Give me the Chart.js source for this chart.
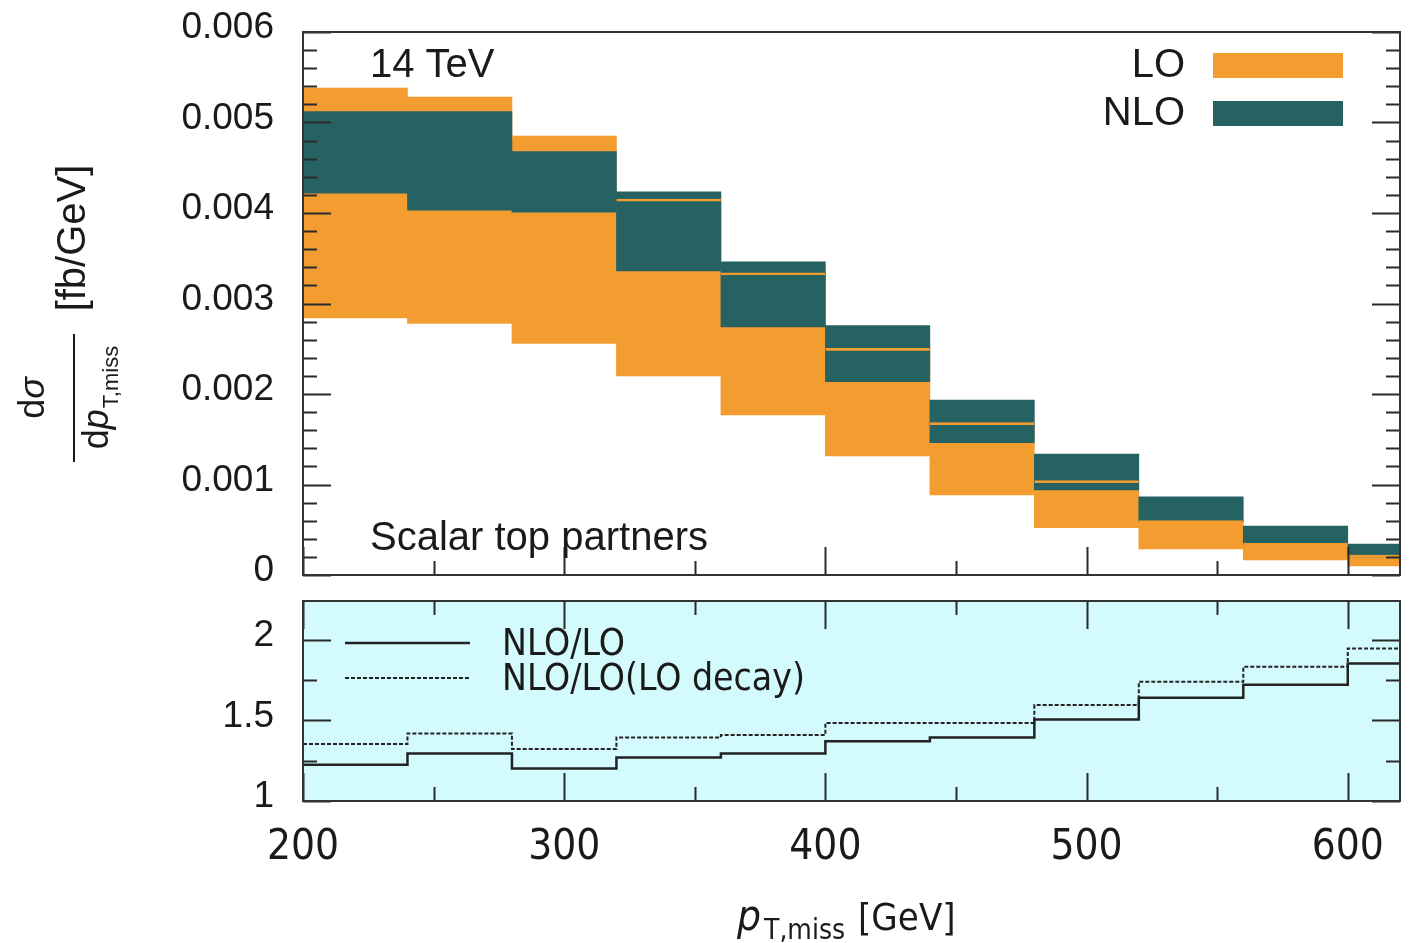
<!DOCTYPE html>
<html>
<head>
<meta charset="utf-8">
<script src="https://cdn.jsdelivr.net/npm/chart.js@4.4.1/dist/chart.umd.min.js"></script>
<style>
  body { margin: 0; background: #fff; width: 1414px; height: 943px; overflow: hidden; position: relative; }
  #topChart { position: absolute; left: 0; top: 0; }
  #ratioChart { position: absolute; left: 0; top: 590px; }
</style>
</head>
<body>
<canvas id="topChart" width="1414" height="590"></canvas>
<canvas id="ratioChart" width="1414" height="353"></canvas>
<script>
// bin edges in GeV (last bin is cut by the axis at 620)
var binEdges = [200, 240, 280, 320, 360, 400, 440, 480, 520, 560, 600, 640];

// d sigma / d pT,miss  [fb/GeV], scale-variation bands
var loHigh  = [0.00538, 0.00528, 0.00485, 0.004155, 0.00334, 0.002505, 0.001683, 0.001042, 0.00060, 0.00035, 0.00022];
var loLow   = [0.00284, 0.00278, 0.00256, 0.00220, 0.00177, 0.001315, 0.000884, 0.000523, 0.000287, 0.000166, 0.000099];
var nloHigh = [0.00512, 0.00512, 0.00468, 0.004235, 0.00346, 0.002755, 0.001934, 0.001337, 0.000865, 0.000541, 0.000343];
var nloLow  = [0.00422, 0.00403, 0.00401, 0.00336, 0.00274, 0.002135, 0.001462, 0.000939, 0.00059, 0.00034, 0.00020];

// ratios
var ratioNLO      = [1.225, 1.295, 1.202, 1.27, 1.295, 1.37, 1.394, 1.506, 1.64, 1.72, 1.853];
var ratioNLOdecay = [1.353, 1.419, 1.322, 1.394, 1.409, 1.484, 1.484, 1.595, 1.74, 1.833, 1.946];

var topTickLabels   = ['0', '0.001', '0.002', '0.003', '0.004', '0.005', '0.006'];
var ratioTickLabels = ['1', '1.5', '2'];
var xTickLabels     = ['200', '300', '400', '500', '600'];

var ORANGE = '#f39d31';
var TEAL = '#276262';
var FONT = "'Liberation Sans', Arial, sans-serif";
var NARROW = "'Liberation Sans Narrow', 'DejaVu Sans Condensed', sans-serif";

function bandData(lo, hi) {
  var out = [];
  for (var i = 0; i < lo.length; i++) {
    out.push({ x: (binEdges[i] + binEdges[i + 1]) / 2, y: [lo[i], hi[i]] });
  }
  return out;
}

function stepData(vals) {
  var out = [];
  for (var i = 0; i < vals.length; i++) {
    out.push({ x: binEdges[i], y: vals[i] });
  }
  out.push({ x: binEdges[vals.length], y: vals[vals.length - 1] });
  return out;
}

function noPad(s) {
  s.paddingTop = 0; s.paddingBottom = 0; s.paddingLeft = 0; s.paddingRight = 0;
}

// gnuplot style frame with inward ticks
function drawFrame(chart, o) {
  var ctx = chart.ctx, a = chart.chartArea;
  var xs = chart.scales.x, ys = chart.scales.y;
  ctx.save();
  ctx.strokeStyle = '#2a2a2a';
  ctx.lineWidth = 2;
  ctx.beginPath();
  for (var i = 0; ; i++) {
    var v = 200 + i * 50;
    if (v > 620) break;
    var px = Math.round(xs.getPixelForValue(v)) + 0.5;
    var len = (i % 2 === 0) ? 28 : 14;
    ctx.moveTo(px, a.bottom); ctx.lineTo(px, a.bottom - len);
    if (o.xTop) { ctx.moveTo(px, a.top); ctx.lineTo(px, a.top + len); }
  }
  for (var j = 0; ; j++) {
    var yv = o.yMin + j * o.yStep;
    if (yv > o.yMax + 1e-12) break;
    var py = Math.round(ys.getPixelForValue(yv)) + 0.5;
    var l2 = (j % o.yMajorEvery === 0) ? 28 : 14;
    ctx.moveTo(a.left, py); ctx.lineTo(a.left + l2, py);
    ctx.moveTo(a.right, py); ctx.lineTo(a.right - l2, py);
  }
  ctx.stroke();
  ctx.strokeStyle = '#333';
  ctx.strokeRect(a.left, a.top, a.right - a.left, a.bottom - a.top);
  ctx.restore();
}

var topExtras = {
  id: 'topExtras',
  afterDraw: function (chart) {
    drawFrame(chart, { xTop: false, yMin: 0, yMax: 0.006, yStep: 0.0002, yMajorEvery: 5 });
    var ctx = chart.ctx;
    ctx.save();
    ctx.fillStyle = '#1a1a1a';
    ctx.font = '40px ' + FONT;
    ctx.textBaseline = 'alphabetic';
    ctx.textAlign = 'left';
    ctx.fillText('14 TeV', 370, 77);
    ctx.fillText('Scalar top partners', 370, 550);
    ctx.textAlign = 'right';
    ctx.fillText('LO', 1185, 77);
    ctx.fillText('NLO', 1185, 125);
    ctx.fillStyle = ORANGE;
    ctx.fillRect(1213, 53, 130, 25);
    ctx.fillStyle = TEAL;
    ctx.fillRect(1213, 101, 130, 25);

    // y axis title: d sigma / d p_T,miss [fb/GeV]
    ctx.translate(74, 398);
    ctx.rotate(-Math.PI / 2);
    ctx.fillStyle = '#1a1a1a';
    ctx.strokeStyle = '#1a1a1a';
    ctx.lineWidth = 2;
    ctx.beginPath();
    ctx.moveTo(-64, 0); ctx.lineTo(64, 0);
    ctx.stroke();
    ctx.textAlign = 'left';
    ctx.textBaseline = 'alphabetic';
    ctx.font = '36px ' + FONT;
    var wd = ctx.measureText('d').width;
    ctx.font = 'italic 36px ' + FONT;
    var ws = ctx.measureText('\u03c3').width;
    var x0 = -(wd + ws) / 2;
    ctx.font = '36px ' + FONT;
    ctx.fillText('d', x0, -30);
    ctx.font = 'italic 36px ' + FONT;
    ctx.fillText('\u03c3', x0 + wd, -30);
    // denominator
    ctx.font = 'italic 36px ' + FONT;
    var wp = ctx.measureText('p').width;
    ctx.font = '22px ' + FONT;
    var wsub = ctx.measureText('T,miss').width;
    var x1 = -(wd + wp + wsub) / 2;
    ctx.font = '36px ' + FONT;
    ctx.fillText('d', x1, 34);
    ctx.font = 'italic 36px ' + FONT;
    ctx.fillText('p', x1 + wd, 34);
    ctx.font = '22px ' + FONT;
    ctx.fillText('T,miss', x1 + wd + wp + 1, 44);
    ctx.font = '40px ' + FONT;
    ctx.textAlign = 'center';
    ctx.textBaseline = 'middle';
    ctx.fillText('[fb/GeV]', 160, 0);
    ctx.restore();
  }
};

var ratioExtras = {
  id: 'ratioExtras',
  beforeDatasetsDraw: function (chart) {
    var a = chart.chartArea, ctx = chart.ctx;
    ctx.save();
    ctx.fillStyle = '#d3fafc';
    ctx.fillRect(a.left, a.top, a.right - a.left, a.bottom - a.top);
    ctx.restore();
  },
  afterDraw: function (chart) {
    drawFrame(chart, { xTop: true, yMin: 1, yMax: 2.24, yStep: 0.25, yMajorEvery: 2 });
    var ctx = chart.ctx;
    ctx.save();
    // legend
    ctx.strokeStyle = '#222';
    ctx.lineWidth = 2.5;
    ctx.beginPath(); ctx.moveTo(345, 53); ctx.lineTo(470, 53); ctx.stroke();
    ctx.lineWidth = 2;
    ctx.setLineDash([4, 2]);
    ctx.beginPath(); ctx.moveTo(345, 88); ctx.lineTo(470, 88); ctx.stroke();
    ctx.setLineDash([]);
    ctx.fillStyle = '#1a1a1a';
    ctx.font = '37px ' + NARROW;
    ctx.textAlign = 'left';
    ctx.textBaseline = 'alphabetic';
    ctx.fillText('NLO/LO', 502, 65);
    ctx.fillText('NLO/LO(LO decay)', 502, 100);

    // x axis title: p_T,miss [GeV]
    ctx.font = 'italic 42px ' + NARROW;
    ctx.fillText('p', 737, 340);
    var wp = ctx.measureText('p').width;
    ctx.font = '28px ' + NARROW;
    ctx.fillText('T,miss', 737 + wp + 3, 349);
    ctx.font = '38px ' + NARROW;
    ctx.fillText('[GeV]', 858, 340);
    ctx.restore();
  }
};

var barCommon = { grouped: false, barPercentage: 1, categoryPercentage: 1, clip: 0 };

new Chart(document.getElementById('topChart'), {
  type: 'bar',
  data: {
    datasets: [
      Object.assign({
        label: 'LO edge',
        data: bandData(loLow, loHigh),
        backgroundColor: 'rgba(0,0,0,0)',
        borderColor: ORANGE,
        borderWidth: { top: 2, right: 0, bottom: 0, left: 0 },
        borderSkipped: false,
        order: 0
      }, barCommon),
      Object.assign({
        label: 'NLO',
        data: bandData(nloLow, nloHigh),
        backgroundColor: TEAL,
        borderWidth: 0,
        order: 1
      }, barCommon),
      Object.assign({
        label: 'LO',
        data: bandData(loLow, loHigh),
        backgroundColor: ORANGE,
        borderWidth: 0,
        order: 2
      }, barCommon)
    ]
  },
  options: {
    responsive: false,
    animation: false,
    devicePixelRatio: 1,
    layout: { padding: { top: 32, right: 14, left: 0, bottom: 15 } },
    plugins: { legend: { display: false }, tooltip: { enabled: false } },
    scales: {
      x: {
        type: 'linear', display: false, min: 200, max: 620, offset: false,
        ticks: { stepSize: 40, includeBounds: false }
      },
      y: {
        type: 'linear', min: 0, max: 0.006,
        grid: { display: false, drawTicks: false },
        border: { display: false },
        afterFit: function (s) { s.width = 303; noPad(s); },
        ticks: {
          stepSize: 0.001, padding: 29, labelOffset: -4, color: '#1a1a1a',
          font: { family: FONT, size: 37 },
          callback: function (v) { return topTickLabels[Math.round(v / 0.001)]; }
        }
      }
    }
  },
  plugins: [topExtras]
});

new Chart(document.getElementById('ratioChart'), {
  type: 'line',
  data: {
    datasets: [
      {
        label: 'NLO/LO',
        data: stepData(ratioNLO),
        stepped: true,
        borderColor: '#222',
        borderWidth: 2.5,
        pointRadius: 0,
        fill: false,
        clip: 0
      },
      {
        label: 'NLO/LO(LO decay)',
        data: stepData(ratioNLOdecay),
        stepped: true,
        borderColor: '#222',
        borderWidth: 2,
        borderDash: [4, 2],
        pointRadius: 0,
        fill: false,
        clip: 0
      }
    ]
  },
  options: {
    responsive: false,
    animation: false,
    devicePixelRatio: 1,
    layout: { padding: { top: 11, right: 14, left: 0, bottom: 0 } },
    plugins: { legend: { display: false }, tooltip: { enabled: false } },
    scales: {
      x: {
        type: 'linear', min: 200, max: 620,
        grid: { display: false, drawTicks: false },
        border: { display: false },
        afterFit: function (s) { s.height = 142; noPad(s); },
        ticks: {
          stepSize: 100, includeBounds: false, padding: 22, color: '#1a1a1a', maxRotation: 0,
          font: { family: NARROW, size: 42 },
          callback: function (v) { return xTickLabels[Math.round((v - 200) / 100)]; }
        }
      },
      y: {
        type: 'linear', min: 1, max: 2.24,
        grid: { display: false, drawTicks: false },
        border: { display: false },
        afterFit: function (s) { s.width = 303; noPad(s); },
        ticks: {
          stepSize: 0.5, includeBounds: false, padding: 29, labelOffset: -4, color: '#1a1a1a',
          font: { family: FONT, size: 37 },
          callback: function (v) { return ratioTickLabels[Math.round((v - 1) / 0.5)]; }
        }
      }
    }
  },
  plugins: [ratioExtras]
});
</script>
</body>
</html>
